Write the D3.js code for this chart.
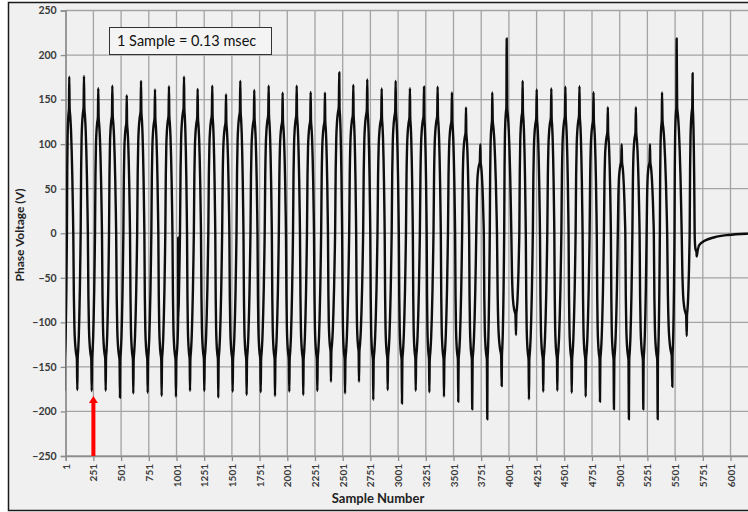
<!DOCTYPE html>
<html><head><meta charset="utf-8">
<script src="https://cdn.jsdelivr.net/npm/d3@7"></script>
<style>body{margin:0;background:#fff;} svg{display:block}</style>
</head><body><svg id="c" width="748" height="512"></svg>
<script>
// ---- data ----
// alternating peaks / troughs of the phase voltage (sample number, volts)
const extremaSample = [-9,33,106,166,236,295,362,422,491,552,611,681,741,807,867,933,996,1069,1123,1192,1252,1324,1378,1448,1508,1577,1634,1703,1761,1833,1890,1959,2019,2086,2145,2212,2272,2341,2395,2470,2522,2597,2648,2723,2777,2853,2907,2979,3036,3108,3160,3235,3283,3358,3415,3487,3544,3614,3670,3743,3806,3851,3936,3981,4065,4125,4182,4252,4311,4384,4438,4511,4568,4638,4694,4765,4823,4894,4949,5019,5084,5147,5214,5274,5344,5383,5476,5515,5606,5659,5696];
const extremaValue = [-176,175.7,-176,176.5,-177,162.7,-176.7,165.6,-184.5,155,-179.7,171,-179,161.5,-182.7,165,-183.4,175.7,-177,162,-177,165.6,-184.5,156,-177.8,171,-181.5,160.8,-178.5,165.6,-182.7,157.8,-177.8,165.6,-181.5,158.5,-177,157.8,-166.6,180.5,-179.7,166.5,-166.6,172.7,-187,162.4,-176,171,-191,162.7,-176.7,164.5,-178.5,164.5,-183.4,158,-189,141.3,-197.6,100,-208.8,158,-171.4,218.7,-114.2,171,-186.4,161.3,-177.8,162.5,-176.7,164.5,-179,165,-183.4,158.3,-189,141.5,-197.6,100,-208.8,141.5,-197.6,100,-208.8,158,-172.2,218.7,-115.3,179.5,-26];
// short disturbance near sample 1017
const glitchSample = [1016,1016.6,1017.2];
const glitchValue  = [-92,-5,-92];
// decay after the fault is cleared
const tailSample = [5705,5720,5767,5857,5981,6158,6300];
const tailValue  = [-19,-13,-8.5,-4.5,-1.9,-0.4,0];
// lobe shape around each extremum: [fraction of gap to neighbour, shoulder fraction, spike fraction]
const riseShape = [[-0.5,0,0],[-0.43,0.5,0],[-0.36,0.75,0],[-0.27,0.88,0],[-0.17,0.95,0],[-0.06,1,0],[0,1,1]];
const fallShape = [[0.05,1,0],[0.13,0.93,0],[0.22,0.82,0],[0.3,0.66,0],[0.38,0.45,0],[0.45,0.2,0]];
const shoulderCap = 142;

const xTickValues = [1,251,501,751,1001,1251,1501,1751,2001,2251,2501,2751,3001,3251,3501,3751,4001,4251,4501,4751,5001,5251,5501,5751,6001];
const yTickValues = [-250,-200,-150,-100,-50,0,50,100,150,200,250];
const annotationText = "1 Sample = 0.13 msec";
const arrowSample = 251;
const xTitle = "Sample Number";
const yTitle = "Phase Voltage (V)";

// ---- drawing ----
const svg = d3.select("#c");
const x = d3.scaleLinear().domain([1, 6251]).range([65.7, 758.2]);
const y = d3.scaleLinear().domain([-250, 250]).range([456, 10.5]);

svg.append("rect").attr("x",8.5).attr("y",2.5).attr("width",760).attr("height",508)
  .attr("fill","#f0f0f0").attr("stroke","#1a1a1a").attr("stroke-width",1.5);

// gridlines
const grid = svg.append("g").attr("stroke","#a3a3a3").attr("stroke-width",1.3);
grid.selectAll(".h").data(yTickValues).join("line")
  .attr("x1",x(1)).attr("x2",760).attr("y1",d=>y(d)).attr("y2",d=>y(d));
grid.selectAll(".v").data(xTickValues).join("line")
  .attr("x1",d=>x(d)).attr("x2",d=>x(d)).attr("y1",y(250)).attr("y2",y(-250));

// axes
const ya = svg.append("g").attr("transform",`translate(${x(1)},0)`)
  .call(d3.axisLeft(y).tickValues(yTickValues).tickSize(5).tickPadding(4));
const xa = svg.append("g").attr("transform",`translate(0,${y(-250)})`)
  .call(d3.axisBottom(x).tickValues(xTickValues).tickSize(5).tickFormat(d3.format("d")));
[ya,xa].forEach(a=>{
  a.select(".domain").attr("stroke","#8c8c8c").attr("stroke-width",1.3);
  a.selectAll(".tick line").attr("stroke","#8c8c8c").attr("stroke-width",1.3);
  a.selectAll("text").attr("fill","#3a3a3a").attr("font-family","Lato, 'Liberation Sans', sans-serif").attr("font-weight","bold");
});
ya.selectAll("text").attr("font-size","10.5px");
xa.selectAll("text").attr("font-size","10px")
  .attr("transform","rotate(-90)").attr("y",0).attr("x",-8).attr("dy","0.35em").attr("text-anchor","end");

// waveform points
const pts = [];
for (let i=0;i<extremaSample.length;i++){
  const s = extremaSample[i], E = extremaValue[i], sg = Math.sign(E), A = Math.abs(E);
  const B = Math.min(0.8*A, shoulderCap);
  const dPrev = i>0 ? s-extremaSample[i-1] : extremaSample[1]-s;
  const dNext = i<extremaSample.length-1 ? extremaSample[i+1]-s : null;
  riseShape.forEach(([f,b,k])=>pts.push([s+f*dPrev, sg*(B*b+(A-B)*k)]));
  if (dNext!==null) fallShape.forEach(([f,b,k])=>pts.push([s+f*dNext, sg*(B*b+(A-B)*k)]));
}
glitchSample.forEach((s,i)=>pts.push([s,glitchValue[i]]));
tailSample.forEach((s,i)=>pts.push([s,tailValue[i]]));
pts.sort((a,b)=>a[0]-b[0]);

svg.append("clipPath").attr("id","pc").append("rect")
  .attr("x",x(1)).attr("y",0).attr("width",760).attr("height",512);
svg.append("path").datum(pts).attr("clip-path","url(#pc)")
  .attr("fill","none").attr("stroke","#0d0d0d").attr("stroke-width",2.4).attr("stroke-linejoin","round")
  .attr("d", d3.line().x(d=>x(d[0])).y(d=>y(d[1])).curve(d3.curveMonotoneX));

// annotation box
svg.append("rect").attr("x",109.5).attr("y",27.5).attr("width",162).attr("height",27)
  .attr("fill","#f4f4f4").attr("stroke","#333").attr("stroke-width",1);
svg.append("text").attr("x",117).attr("y",46).attr("font-family","Lato, 'Liberation Sans', sans-serif")
  .attr("font-size","14.5px").attr("fill","#111").text(annotationText);

// red arrow
const ax = x(arrowSample), ab = y(-250), at = ab-60;
svg.append("path").attr("fill","#ff0000")
  .attr("d",`M${ax-2},${ab} L${ax-2},${at+7} L${ax-4.5},${at+7} L${ax},${at} L${ax+4.5},${at+7} L${ax+2},${at+7} L${ax+2},${ab} Z`);

// titles
svg.append("text").attr("x",378).attr("y",503).attr("text-anchor","middle")
  .attr("font-family","Lato, 'Liberation Sans', sans-serif").attr("font-weight","bold").attr("font-size","13px")
  .attr("fill","#222").text(xTitle);
svg.append("text").attr("transform","translate(24,235) rotate(-90)").attr("text-anchor","middle")
  .attr("font-family","Lato, 'Liberation Sans', sans-serif").attr("font-weight","bold").attr("font-size","12px")
  .attr("fill","#222").text(yTitle);
</script></body></html>
